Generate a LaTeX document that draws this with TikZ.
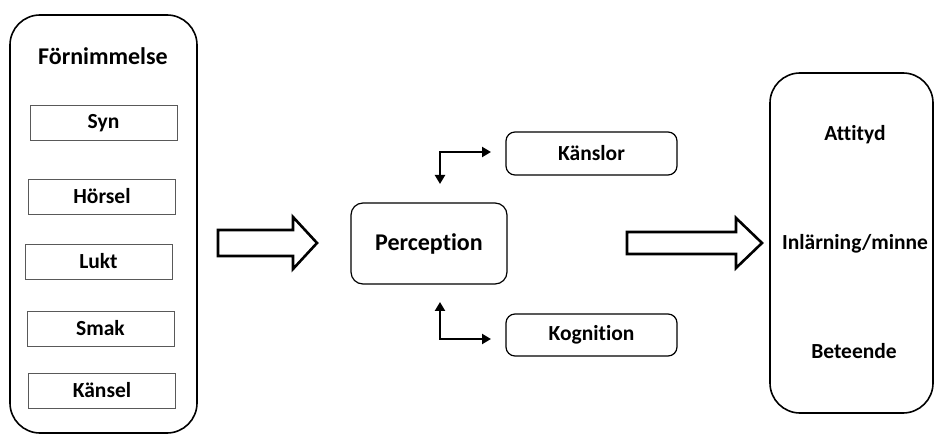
\documentclass[tikz,border=0pt]{standalone}
\usepackage{fontspec}
\setmainfont{Carlito}[Ligatures={NoCommon,NoRequired}]
\usetikzlibrary{arrows.meta}

\begin{document}
\begin{tikzpicture}
  [x=1pt,y=-1pt,every node/.style={font=\bfseries\fontsize{21.5}{25}\selectfont},
   sense/.style={draw=black!65,line width=0.8pt,minimum width=147pt,minimum height=35pt},
   soft/.style={draw,rounded corners=9pt,line width=1.2pt},
   big/.style={draw,rounded corners=30pt,line width=1.6pt},
   fat/.style={draw,line width=2.6pt,line join=miter},
   bent/.style={line width=2.8pt,{Triangle[length=9pt,width=10pt]}-{Triangle[length=9pt,width=10pt]}}]
  \useasboundingbox (0,0) rectangle (934,435);

  % left column
  \node[big,minimum width=187pt,minimum height=418pt] (nleft) at (103.5,224) {};
  \node[font=\bfseries\fontsize{24}{28}\selectfont] (ntitle) at (103,56) {Förnimmelse};
  \node[sense] (nsyn) at (103.5,123) {Syn};
  \node[sense] (nhor) at (102,196.5) {Hörsel};
  \node[sense] (nluk) at (98.5,261.5) {Lukt};
  \node[sense] (nsma) at (100.5,328.5) {Smak};
  \node[sense] (nkan) at (102,390.5) {Känsel};

  % middle
  \node[soft,rounded corners=12pt,minimum width=156pt,minimum height=81pt,
        font=\bfseries\fontsize{24}{28}\selectfont] (nper) at (429,243.5) {Perception};
  \node[soft,minimum width=171pt,minimum height=43pt] (nkns) at (591.5,153.5) {Känslor};
  \node[soft,minimum width=171pt,minimum height=42pt] (nkog) at (591.5,335) {Kognition};

  % right column
  \node[big,minimum width=163pt,minimum height=340pt] (nright) at (851.5,243) {};
  \node (natt) at (855,135) {Attityd};
  \node (ninl) at (855,244) {Inlärning/minne};
  \node (nbet) at (854,351) {Beteende};

  % block arrows
  \draw[fat] (218,230) -- (293,230) -- (293,217) -- (317,243) -- (293,269)
    -- (293,256) -- (218,256) -- cycle;
  \draw[fat] (627,232) -- (736,232) -- (736,218) -- (762,243) -- (736,268)
    -- (736,254) -- (627,254) -- cycle;

  % bent arrows
  \coordinate (ka) at (440,184);
  \coordinate (kb) at (491,152);
  \coordinate (ga) at (440,302);
  \coordinate (gb) at (491,339);
  \draw[bent] (ka) |- (kb);
  \draw[bent] (ga) |- (gb);
\end{tikzpicture}
\end{document}
